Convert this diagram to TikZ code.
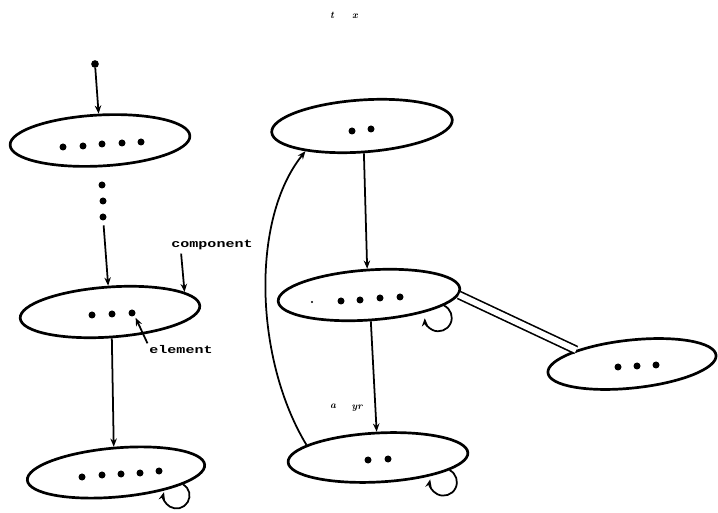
\documentclass[tikz,border=0pt]{standalone}
\usepackage{fontspec}
\setmonofont{Liberation Mono}
\usetikzlibrary{shapes.geometric,arrows.meta}
\begin{document}
\begin{tikzpicture}[x=0.03cm,y=-0.03cm,
  comp/.style={ellipse,draw,line width=2.3pt,inner sep=0pt,minimum width=5.4cm,minimum height=1.5cm},
  elem/.style={circle,fill,inner sep=0pt,minimum size=0.21cm},
  conn/.style={line width=1.5pt,-{Stealth[length=7pt,width=5.5pt]}},
  dbl/.style={line width=1.4pt,double,double distance=5pt},
  lbl/.style={font=\fontsize{9.5}{10}\selectfont\ttfamily\bfseries,xscale=1.35,inner sep=0pt},
  scrap/.style={font=\fontsize{8.5}{8.5}\selectfont\bfseries\itshape,inner sep=0pt}
]
\useasboundingbox (0,0) rectangle (718,513);

% scraps of text
\node[scrap] (t1) at (332,15) {t};
\node[scrap] (t2) at (355,16) {x};
\node[scrap] (s1) at (333,406) {a};
\node[scrap] (s2) at (357,408) {yr};

% components
\node[comp,rotate=3,minimum height=1.53cm] (E1) at (100,140.5) {};
\node[comp,rotate=4] (E2) at (110,312) {};
\node[comp,rotate=5,minimum width=5.34cm,minimum height=1.47cm] (E3) at (116,472.5) {};
\node[comp,rotate=4,minimum width=5.43cm,minimum height=1.56cm] (A) at (362,126) {};
\node[comp,rotate=4,minimum width=5.46cm] (B) at (369,295) {};
\node[comp,rotate=3,minimum height=1.47cm] (C) at (378,457.5) {};
\node[comp,rotate=6,minimum width=5.07cm,minimum height=1.44cm] (D) at (632,364) {};

% elements
\node[elem,minimum size=0.23cm] (s) at (95,64) {};
\foreach \x/\y [count=\i] in {63/147,83/146,102/144,122/143,141/142}
  \node[elem] (e1\i) at (\x,\y) {};
\node[elem] (v1) at (102,185) {};
\node[elem] (v2) at (103,201) {};
\node[elem] (v3) at (103,217) {};
\foreach \x/\y [count=\i] in {92/315,112/314,132/313}
  \node[elem] (e2\i) at (\x,\y) {};
\foreach \x/\y [count=\i] in {82/477,102/475,121/474,140/473,159/471}
  \node[elem] (e3\i) at (\x,\y) {};
\node[elem] (a1) at (352,131) {};
\node[elem] (a2) at (371,129) {};
\node[elem,minimum size=0.07cm] (b0) at (312,302) {};
\foreach \x/\y [count=\i] in {341/301,360/300,380/298,400/297}
  \node[elem] (b\i) at (\x,\y) {};
\node[elem] (c1) at (368,460) {};
\node[elem] (c2) at (388,459) {};
\foreach \x/\y [count=\i] in {618/367,637/366,656/365}
  \node[elem] (d\i) at (\x,\y) {};

% labels
\node[lbl] (lcomp) at (212,245) {component};
\node[lbl] (lelem) at (181,350) {element};

% connectors, left column
\draw[conn] (s) -- (E1.north);
\draw[conn,shorten <=4pt] (v3) -- (E2.north);
\draw[conn] (E2.south) -- (E3.north);
\draw[conn] (E3.-15) arc[start angle=-59,end angle=195,radius=13];

% label pointers
\draw[conn] ([xshift=0.3cm,yshift=-3pt]lcomp.south west) -- (E2.11);
\draw[conn,shorten >=2pt] ([xshift=-0.05cm,yshift=2pt]lelem.north west) -- (e23.south east);

% connectors, right part
\draw[conn] (A.south) -- (B.north);
\draw[conn] (B.south) -- (C.north);
\draw[conn] (B.-12) arc[start angle=-65,end angle=178,radius=13.5];
\draw[conn] (C.-13) arc[start angle=-63,end angle=192,radius=13.5];
\draw[conn] (C.167) .. controls (255,360) and (250,220) .. (A.200);
\draw[dbl] (B.-4) -- (D.160);
\end{tikzpicture}
\end{document}
